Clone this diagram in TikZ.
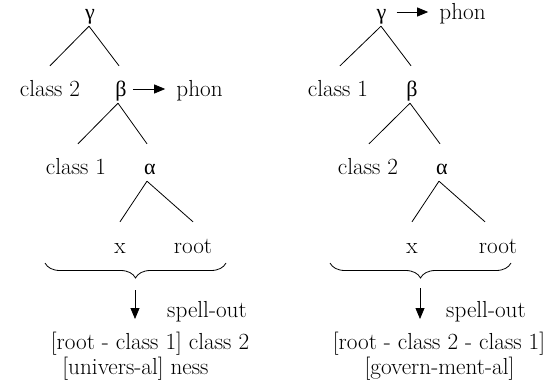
\documentclass[tikz,border=0pt]{standalone}
\usepackage{fontspec}
\newfontfamily\grk{Liberation Serif}
\usetikzlibrary{arrows.meta,decorations.pathreplacing}
\tikzset{
  lbl/.style={anchor=base, inner sep=0pt, text height=16pt, text depth=6pt, font=\fontsize{23.2}{28}\selectfont},
  glbl/.style={lbl, font=\fontsize{22}{26}\selectfont\grk},
  edge/.style={line width=0.8pt},
  arr/.style={line width=0.8pt, -{Triangle[length=11pt,width=9pt]}},
  bracestyle/.style={line width=0.8pt, decorate, decoration={brace, amplitude=15pt, mirror}}
}
\begin{document}
\begin{tikzpicture}[x=1pt,y=-1pt]
\useasboundingbox (0,0) rectangle (546,390);
% left tree
\node[glbl] (g1) at (90,20) {γ};
\node[lbl] (c2a) at (50,97) {class 2};
\node[glbl] (b1) at (121,97) {β};
\node[lbl] (p1) at (199.5,97) {phon};
\node[lbl] (c1a) at (76,175) {class 1};
\node[glbl] (a1) at (150,175) {α};
\node[lbl] (x1) at (120,253) {x};
\node[lbl] (r1) at (193,253) {root};
\node[lbl] (s1) at (207,317) {spell-out};
\node[lbl] (l1a) at (150,349) {[root - class 1] class 2};
\node[lbl] (l1b) at (135.5,374) {[univers-al] ness};
\draw[edge] ([xshift=-1pt]g1.south) -- ([yshift=15pt]c2a.north);
\draw[edge] ([xshift=-1pt]g1.south) -- ([xshift=-2pt,yshift=15pt]b1.north);
\draw[edge] ([xshift=-3pt]b1.south) -- ([xshift=2pt,yshift=15pt]c1a.north);
\draw[edge] ([xshift=-3pt]b1.south) -- ([xshift=-3pt,yshift=15pt]a1.north);
\draw[edge] ([xshift=-3pt]a1.south) -- ([yshift=15pt]x1.north);
\draw[edge] ([xshift=-3pt]a1.south) -- ([yshift=15pt]r1.north);
\draw[arr] ([xshift=6pt,yshift=3pt]b1.east) -- ([xshift=-11pt,yshift=3pt]p1.west);
\draw[bracestyle] (45,263) -- (226,263);
\coordinate (d1s) at (135,290);
\coordinate (d1e) at (135,319);
\draw[arr] (d1s) -- (d1e);
% right tree
\node[glbl] (g2) at (381.5,20) {γ};
\node[lbl] (p2) at (462.5,20) {phon};
\node[lbl] (c1b) at (338,97) {class 1};
\node[glbl] (b2) at (412,97) {β};
\node[lbl] (c2b) at (368,175) {class 2};
\node[glbl] (a2) at (442,175) {α};
\node[lbl] (x2) at (412,253) {x};
\node[lbl] (r2) at (498,253) {root};
\node[lbl] (s2) at (486,317) {spell-out};
\node[lbl] (l2a) at (439,349) {[root - class 2 - class 1]};
\node[lbl] (l2b) at (439.5,374) {[govern-ment-al]};
\draw[edge] ([xshift=-0.5pt]g2.south) -- ([xshift=2pt,yshift=15pt]c1b.north);
\draw[edge] ([xshift=-0.5pt]g2.south) -- ([xshift=-1pt,yshift=15pt]b2.north);
\draw[edge] ([xshift=-2pt]b2.south) -- ([xshift=1pt,yshift=15pt]c2b.north);
\draw[edge] ([xshift=-2pt]b2.south) -- ([xshift=-2pt,yshift=15pt]a2.north);
\draw[edge] ([xshift=-3pt]a2.south) -- ([yshift=15pt]x2.north);
\draw[edge] ([xshift=-3pt]a2.south) -- ([xshift=-13pt,yshift=15pt]r2.north);
\draw[arr] ([xshift=10pt,yshift=3pt]g2.east) -- ([xshift=-11pt,yshift=3pt]p2.west);
\draw[bracestyle] (330,263) -- (511,263);
\coordinate (d2s) at (420,288);
\coordinate (d2e) at (420,319);
\draw[arr] (d2s) -- (d2e);
\end{tikzpicture}
\end{document}
